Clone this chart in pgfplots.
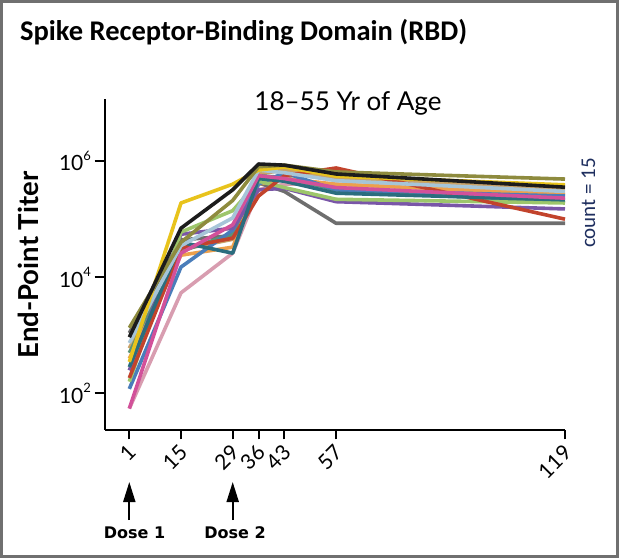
\documentclass[border=0pt]{standalone}
\usepackage{fontspec}
\setmainfont{Lato}
\newfontfamily\titlefont{Carlito}
\newfontfamily\dosefont{DejaVu Sans}
\usepackage{pgfplots}
\pgfplotsset{compat=1.18}
\usetikzlibrary{arrows.meta}

\definecolor{frame}{HTML}{707070}
\definecolor{cBlack}{HTML}{1C1C1C}
\definecolor{cYellow}{HTML}{E8C31C}
\definecolor{cOlive}{HTML}{8E8B3E}
\definecolor{cGray}{HTML}{6E6E6E}
\definecolor{cLgreen}{HTML}{9DC66B}
\definecolor{cPurple}{HTML}{7A56A8}
\definecolor{cRed}{HTML}{C2432C}
\definecolor{cOrange}{HTML}{EDA04C}
\definecolor{cTeal}{HTML}{2B6D7E}
\definecolor{cBlue}{HTML}{4A7DBA}
\definecolor{cMagenta}{HTML}{D2519A}
\definecolor{cLpink}{HTML}{D89DB0}
\definecolor{cLblue}{HTML}{A6C5D8}
\definecolor{cSea}{HTML}{5A9478}
\definecolor{cTan}{HTML}{C9A268}
\definecolor{navy}{HTML}{1F2F5F}

\newcommand{\tenpow}[1]{10\raisebox{0.5em}{\fontsize{13}{13}\selectfont #1}}

\begin{document}
\begin{tikzpicture}[x=1pt,y=1pt]
\useasboundingbox (0,0) rectangle (619,558);
\draw[line width=3pt, frame] (1.5,1.5) rectangle (617.5,556.5);

\node[anchor=base west, inner sep=0pt, font=\titlefont\bfseries\fontsize{28.5}{28.5}\selectfont] at (20,517) {Spike Receptor-Binding Domain (RBD)};

\begin{axis}[
    at={(104.5pt,128.5pt)}, anchor=south west,
    scale only axis, width=460.5pt, height=330.5pt,
    xmin=-5.72, xmax=119,
    ymode=log, ymin=24, ymax=1.17e7,
    axis x line*=bottom, axis y line*=left,
    axis line style={line width=2pt, black},
    tick align=outside, major tick length=10pt,
    tick style={line width=2pt, black},
    yminorticks=false,
    xtick={1,15,29,36,43,57,119},
    xticklabels={1,15,29,36,43,57,119},
    xticklabel style={xshift=5pt, yshift=-7pt, rotate=45, anchor=east, font=\fontsize{21}{21}\selectfont},
    ytick={1e2,1e4,1e6},
    yticklabels={\tenpow{2},\tenpow{4},\tenpow{6}},
    yticklabel style={font=\fontsize{21}{21}\selectfont},
    clip=false,
    every axis plot/.append style={line width=3.6pt, line join=round},
]
\addplot[cLpink] coordinates {(1,55) (15,5400) (29,26000) (36,320000) (43,400000) (57,400000) (119,260000)};
\addplot[cGray] coordinates {(1,1100) (15,44000) (29,52000) (36,420000) (43,300000) (57,85000) (119,85000)};
\addplot[cTan] coordinates {(1,600) (15,30000) (29,45000) (36,600000) (43,700000) (57,500000) (119,330000)};
\addplot[cSea] coordinates {(1,500) (15,28000) (29,56000) (36,560000) (43,520000) (57,320000) (119,195000)};
\addplot[cOrange] coordinates {(1,400) (15,24000) (29,33000) (36,400000) (43,500000) (57,400000) (119,270000)};
\addplot[cBlue] coordinates {(1,120) (15,15000) (29,65000) (36,400000) (43,630000) (57,320000) (119,250000)};
\addplot[cPurple] coordinates {(1,250) (15,55000) (29,70000) (36,320000) (43,340000) (57,200000) (119,150000)};
\addplot[cLgreen] coordinates {(1,160) (15,60000) (29,140000) (36,450000) (43,350000) (57,220000) (119,190000)};
\addplot[cRed] coordinates {(1,185) (15,32000) (29,47000) (36,250000) (43,560000) (57,760000) (119,100000)};
\addplot[cTeal] coordinates {(1,285) (15,40000) (29,26000) (36,500000) (43,450000) (57,280000) (119,215000)};
\addplot[cMagenta] coordinates {(1,55) (15,26000) (29,80000) (36,560000) (43,500000) (57,350000) (119,230000)};
\addplot[cLblue] coordinates {(1,740) (15,35000) (29,105000) (36,700000) (43,630000) (57,460000) (119,300000)};
\addplot[cYellow] coordinates {(1,350) (15,190000) (29,400000) (36,700000) (43,790000) (57,550000) (119,390000)};
\addplot[cOlive] coordinates {(1,1350) (15,40000) (29,210000) (36,800000) (43,850000) (57,650000) (119,490000)};
\addplot[cBlack] coordinates {(1,930) (15,70000) (29,320000) (36,890000) (43,850000) (57,600000) (119,355000)};
\end{axis}

\node[anchor=base, inner sep=0pt, font=\fontsize{26}{26}\selectfont] at (348,447) {18–55 Yr of Age};
\node[rotate=90, inner sep=0pt, font=\bfseries\fontsize{27.5}{27.5}\selectfont] at (28,293) {End-Point Titer};
\node[rotate=90, anchor=base, inner sep=0pt, font=\titlefont\fontsize{21}{21}\selectfont, navy] at (595,355) {count = 15};

\draw[-{Triangle[length=20pt,width=12pt]}, line width=2pt] (129.3,38) -- (129.3,76);
\draw[-{Triangle[length=20pt,width=12pt]}, line width=2pt] (232.7,38) -- (232.7,76);
\node[anchor=base, inner sep=0pt, font=\dosefont\bfseries\fontsize{16}{16}\selectfont] at (134.5,20) {Dose 1};
\node[anchor=base, inner sep=0pt, font=\dosefont\bfseries\fontsize{16}{16}\selectfont] at (235,20) {Dose 2};
\end{tikzpicture}
\end{document}
